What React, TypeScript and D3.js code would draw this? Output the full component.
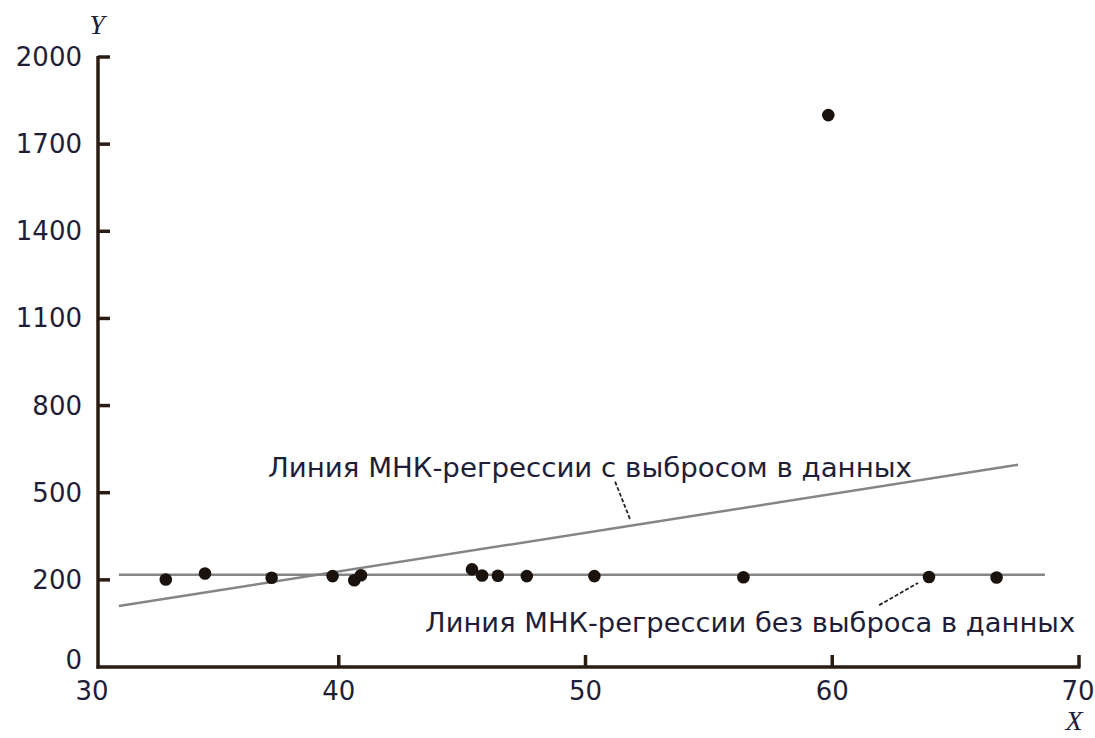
import React from "react";
import * as d3 from "d3";

const xTicks = [30, 40, 50, 60, 70];
const yTicks = [0, 200, 500, 800, 1100, 1400, 1700, 2000];

const pointsX = [32.99, 34.58, 37.28, 39.75, 40.63, 40.9, 45.4, 45.81, 46.45, 47.62, 50.36, 56.4, 59.84, 63.92, 66.66];
const pointsY = [201, 222, 207, 213, 199, 216, 236, 215, 214, 213, 213, 209, 1800, 210, 208];

// regression lines: [x0, y0, x1, y1]
const lineWithOutlier = [31.09, 140, 67.53, 596];
const lineWithoutOutlier = [31.09, 218, 68.62, 218];

const labelWith = "Линия МНК-регрессии с выбросом в данных";
const labelWithout = "Линия МНК-регрессии без выброса в данных";
const labelWithPos = [37.13, 555];
const labelWithoutPos = [43.5, 80];
const leaderWith = [51.2, 538, 51.8, 410];
const leaderWithout = [61.9, 142, 63.48, 193];

const W = 1095;
const H = 738;
const axisColor = "#2a1c12";
const textColor = "#1e1e38";
const font = "'DejaVu Sans', Verdana, sans-serif";

export default function App() {
  const x = d3.scaleLinear().domain([30, 70]).range([92, 1079]);
  const yTop = 57;
  const yBottom = 667;
  const step = (yBottom - yTop) / (yTicks.length - 1);
  const y = d3
    .scaleLinear()
    .domain(yTicks)
    .range(yTicks.map((_, i) => yBottom - i * step));

  const axisX = x(30) + 6;
  const axisRight = x(70);
  const tickLen = 12;

  return (
    <svg width={W} height={H} style={{ position: "absolute", left: 0, top: 0, background: "#fff" }}>
      {/* regression lines */}
      <line
        x1={x(lineWithoutOutlier[0])}
        y1={y(lineWithoutOutlier[1])}
        x2={x(lineWithoutOutlier[2])}
        y2={y(lineWithoutOutlier[3])}
        stroke="#858585"
        strokeWidth={2.5}
      />
      <line
        x1={x(lineWithOutlier[0])}
        y1={y(lineWithOutlier[1])}
        x2={x(lineWithOutlier[2])}
        y2={y(lineWithOutlier[3])}
        stroke="#858585"
        strokeWidth={2.5}
      />
      {/* leaders */}
      <line
        x1={x(leaderWith[0])}
        y1={y(leaderWith[1])}
        x2={x(leaderWith[2])}
        y2={y(leaderWith[3])}
        stroke="#222"
        strokeWidth={1.8}
        strokeDasharray="4,2"
      />
      <line
        x1={x(leaderWithout[0])}
        y1={y(leaderWithout[1])}
        x2={x(leaderWithout[2])}
        y2={y(leaderWithout[3])}
        stroke="#222"
        strokeWidth={1.8}
        strokeDasharray="4,2"
      />
      {/* points */}
      {pointsX.map((px, i) => (
        <circle key={i} cx={x(px)} cy={y(pointsY[i])} r={6.3} fill="#1a120c" />
      ))}
      {/* labels */}
      <text
        x={x(labelWithPos[0])}
        y={y(labelWithPos[1])}
        fontFamily={font}
        fontSize={26}
        fill={textColor}
        textLength={644}
        lengthAdjust="spacingAndGlyphs"
      >
        {labelWith}
      </text>
      <text
        x={x(labelWithoutPos[0])}
        y={y(labelWithoutPos[1])}
        fontFamily={font}
        fontSize={26}
        fill={textColor}
        textLength={650}
        lengthAdjust="spacingAndGlyphs"
      >
        {labelWithout}
      </text>
      {/* axes */}
      <line x1={axisX} y1={yTop - 1} x2={axisX} y2={yBottom + 1.5} stroke={axisColor} strokeWidth={3.5} />
      <line x1={axisX - 1.5} y1={yBottom} x2={axisRight + 1.5} y2={yBottom} stroke={axisColor} strokeWidth={3.5} />
      {yTicks.map((t) => (
        <g key={"y" + t}>
          {t !== 0 && (
            <line x1={axisX} y1={y(t)} x2={axisX + tickLen} y2={y(t)} stroke={axisColor} strokeWidth={3.5} />
          )}
          <text
            x={82}
            y={y(t) - (t === 0 ? 7 : 0)}
            textAnchor="end"
            dominantBaseline="central"
            fontFamily={font}
            fontSize={26}
            fill={textColor}
          >
            {t}
          </text>
        </g>
      ))}
      {xTicks.map((t) => (
        <g key={"x" + t}>
          {t !== 30 && (
            <line x1={x(t)} y1={yBottom} x2={x(t)} y2={yBottom - tickLen} stroke={axisColor} strokeWidth={3.5} />
          )}
          <text
            x={t === 70 ? x(t) - 1 : x(t)}
            y={700}
            textAnchor="middle"
            fontFamily={font}
            fontSize={26}
            fill={textColor}
          >
            {t}
          </text>
        </g>
      ))}
      <text x={97} y={34} textAnchor="middle" fontFamily="'Liberation Serif', serif" fontStyle="italic" fontSize={28} fill={textColor}>
        Y
      </text>
      <text x={1074} y={730} textAnchor="middle" fontFamily="'Liberation Serif', serif" fontStyle="italic" fontSize={28} fill={textColor}>
        X
      </text>
    </svg>
  );
}
